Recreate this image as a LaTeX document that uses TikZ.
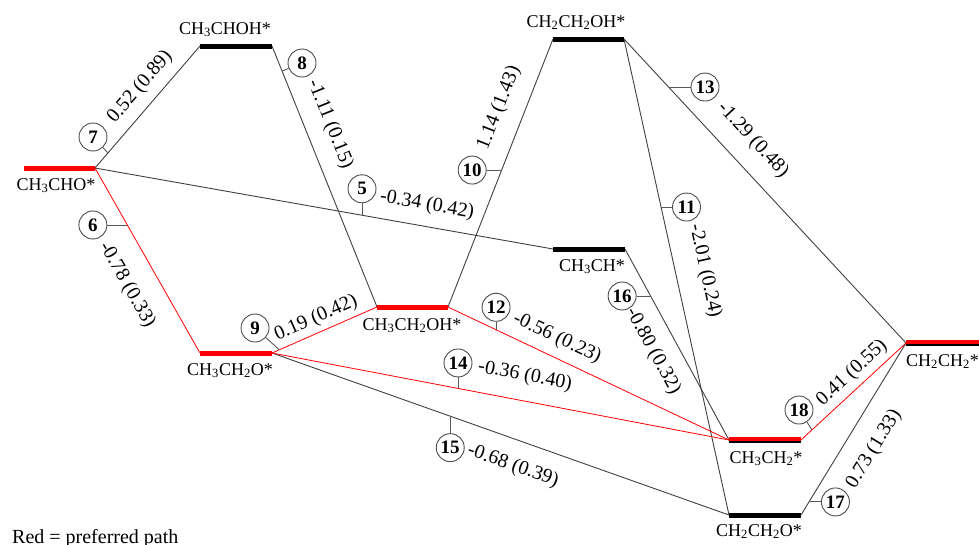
\documentclass[tikz,border=0pt]{standalone}
\usepackage{fontspec}
\setmainfont{Liberation Serif}
\usetikzlibrary{positioning}
\newcommand{\sbs}[1]{\textsubscript{#1}}
\tikzset{
  lvl/.style={line width=5pt},
  blk/.style={draw=black!75, line width=0.9pt},
  rd/.style={draw=red, line width=0.8pt},
  tick/.style={draw=black!65, line width=0.9pt},
  num/.style={circle, draw=black!70, line width=0.9pt, minimum size=28pt, inner sep=0pt, fill=white,
    font=\fontsize{19}{20}\selectfont\bfseries},
  spec/.style={font=\fontsize{18}{20}\selectfont, inner sep=0pt, anchor=base},
  elab/.style={font=\fontsize{20}{22}\selectfont, inner sep=0pt},
}
\begin{document}
\begin{tikzpicture}[x=1pt,y=-1pt]
\useasboundingbox (0,0) rectangle (979,544);
% level end points
\coordinate (aL) at (24,168);  \coordinate (aR) at (95,168);
\coordinate (bL) at (200,46);  \coordinate (bR) at (272,46);
\coordinate (cL) at (553,39);  \coordinate (cR) at (624,39);
\coordinate (dL) at (553,249); \coordinate (dR) at (625,249);
\coordinate (eL) at (377,307); \coordinate (eR) at (448,307);
\coordinate (fL) at (200,353); \coordinate (fR) at (272,353);
\coordinate (gL) at (729,440); \coordinate (gR) at (801,440);
\coordinate (hL) at (729,515); \coordinate (hR) at (801,515);
\coordinate (iL) at (906,343); \coordinate (iR) at (979,343);
% black connectors
\draw[blk] (aR) -- coordinate[pos=0.123] (t7) (bL);
\draw[blk] (bR) -- coordinate[pos=0.096] (t8) (eL);
\draw[blk] (aR) -- coordinate[pos=0.583] (t5) (dL);
\draw[blk] (eR) -- coordinate[pos=0.511] (t10) (cL);
\draw[blk] (fR) -- coordinate[pos=0.39] (t15) (hL);
\draw[blk] (dR) -- coordinate[pos=0.246] (t16) (gL);
\draw[blk] (cR) -- coordinate[pos=0.353] (t11) (hL);
\draw[blk] (cR) -- coordinate[pos=0.158] (t13) (iL);
\draw[blk] (hR) -- coordinate[pos=0.076] (t17) (iL);
% red connectors
\draw[rd] (aR) -- coordinate[pos=0.308] (t6) (fL);
\draw[rd] (fR) -- coordinate[pos=0.07] (t9) (eL);
\draw[rd] (eR) -- coordinate[pos=0.171] (t12) (gL);
\draw[rd] (fR) -- coordinate[pos=0.407] (t14) (gL);
\draw[rd] (gR) -- coordinate[pos=0.105] (t18) (iL);
% levels
\draw[lvl, red] (aL) -- (aR);
\draw[lvl, black] (bL) -- (bR);
\draw[lvl, black] (cL) -- (cR);
\draw[lvl, black] (dL) -- (dR);
\draw[lvl, red] (eL) -- (eR);
\draw[lvl, red] (fL) -- (fR);
\draw[line width=6pt, black] (gL) -- (gR);
\draw[line width=4pt, red] ([yshift=1pt]gL) -- ([yshift=1pt]gR);
\draw[lvl, black] (hL) -- (hR);
\draw[line width=6pt, black] (iL) -- (iR);
\draw[line width=4pt, red] ([yshift=1pt]iL) -- ([yshift=1pt]iR);
% species labels
\node[spec] (na) at (56,190) {CH\sbs{3}CHO*};
\node[spec] (nb) at (225,34) {CH\sbs{3}CHOH*};
\node[spec] (nc) at (576,27) {CH\sbs{2}CH\sbs{2}OH*};
\node[spec] (nd) at (592,271) {CH\sbs{3}CH*};
\node[spec] (ne) at (412,330) {CH\sbs{3}CH\sbs{2}OH*};
\node[spec] (nf) at (230,375) {CH\sbs{3}CH\sbs{2}O*};
\node[spec] (ng) at (766,463) {CH\sbs{3}CH\sbs{2}*};
\node[spec] (nh) at (759,536) {CH\sbs{2}CH\sbs{2}O*};
\node[spec, anchor=base west] (ni) at (906,366) {CH\sbs{2}CH\sbs{2}*};
% step circles and ticks
\node[num] (c7) at (93,137) {7};
\node[num] (c8) at (302,63) {8};
\node[num, above=12pt of t5] (c5) {5};
\node[num, left=20pt of t6] (c6) {6};
\node[num] (c9) at (255,328) {9};
\node[num, left=15pt of t10] (c10) {10};
\node[num, above=8pt of t12] (c12) {12};
\node[num, above=11pt of t14] (c14) {14};
\node[num, below=17pt of t15] (c15) {15};
\node[num, left=14pt of t16] (c16) {16};
\node[num, right=11pt of t11] (c11) {11};
\node[num, right=22pt of t13] (c13) {13};
\node[num] (c18) at (799,410) {18};
\node[num, right=12pt of t17] (c17) {17};
\foreach \k in {7,8,5,6,9,10,12,14,15,16,11,13,18,17}{
  \draw[tick] (c\k) -- (t\k);
}
% energy labels
\node[elab, rotate=49.2] (l7) at (140,87) {0.52 (0.89)};
\node[elab, rotate=-68.1] (l8) at (330,124) {-1.11 (0.15)};
\node[elab, rotate=-10] (l5) at (427,205) {-0.34 (0.42)};
\node[elab, rotate=-60.2] (l6) at (127,285) {-0.78 (0.33)};
\node[elab, rotate=23.7] (l9) at (316,318) {0.19 (0.42)};
\node[elab, rotate=68.6] (l10) at (499,108) {1.14 (1.43)};
\node[elab, rotate=-25.3] (l12) at (557,338) {-0.56 (0.23)};
\node[elab, rotate=-10.8] (l14) at (525,376) {-0.36 (0.40)};
\node[elab, rotate=-19.5] (l15) at (513,466) {-0.68 (0.39)};
\node[elab, rotate=-61.4] (l16) at (653,351) {-0.80 (0.32)};
\node[elab, rotate=-77.6] (l11) at (705,271) {-2.01 (0.24)};
\node[elab, rotate=-47.2] (l13) at (753,140) {-1.29 (0.48)};
\node[elab, rotate=42.7] (l18) at (852,373) {0.41 (0.55)};
\node[elab, rotate=58.6] (l17) at (874,449) {0.73 (1.33)};
% legend
\node[font=\fontsize{20}{22}\selectfont, inner sep=0pt, anchor=base west] (leg) at (12,543) {Red = preferred path};
\end{tikzpicture}
\end{document}
